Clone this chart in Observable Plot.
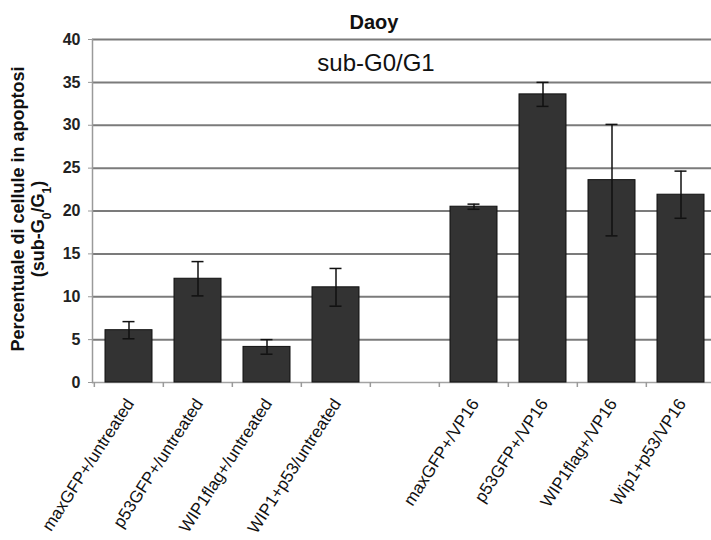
<!DOCTYPE html>
<html>
<head>
<meta charset="utf-8">
<script src="https://cdn.jsdelivr.net/npm/d3@7"></script>
<script src="https://cdn.jsdelivr.net/npm/@observablehq/plot@0.6"></script>
<style>
  html, body { margin: 0; padding: 0; background: #fff; }
  #chart { width: 711px; height: 540px; overflow: hidden; }
</style>
</head>
<body>
<div id="chart"></div>
<script>
// Sub-G0/G1 apoptotic fraction in Daoy cells, mean ± error
const untreatedLabels = ["maxGFP+/untreated", "p53GFP+/untreated", "WIP1flag+/untreated", "WIP1+p53/untreated"];
const untreatedMeans = [6.1, 12.1, 4.15, 11.1];
const untreatedErrors = [1.0, 2.0, 0.85, 2.2];

const vp16Labels = ["maxGFP+/VP16", "p53GFP+/VP16", "WIP1flag+/VP16", "Wip1+p53/VP16"];
const vp16Means = [20.5, 33.6, 23.6, 21.9];
const vp16Errors = [0.3, 1.4, 6.5, 2.75];

const yTicks = [0, 5, 10, 15, 20, 25, 30, 35, 40];
const gapKey = " "; // empty slot separating the two treatment groups

const rows = [
  ...untreatedLabels.map((label, i) => ({label, mean: untreatedMeans[i], err: untreatedErrors[i]})),
  ...vp16Labels.map((label, i) => ({label, mean: vp16Means[i], err: vp16Errors[i]}))
];
const domain = [...untreatedLabels, gapKey, ...vp16Labels];

const font = "'Liberation Sans', Arial, Helvetica, sans-serif";
const xRange = [92, 716];
const step = (xRange[1] - xRange[0]) / domain.length;

const plot = Plot.plot({
  width: 711,
  height: 540,
  marginLeft: 92,
  marginRight: 0,
  marginTop: 39,
  marginBottom: 158,
  style: {fontFamily: font, background: "#fff", color: "#111"},
  x: {type: "band", domain, range: xRange, paddingInner: 0.32, paddingOuter: 0.16},
  y: {domain: [0, 40]},
  marks: [
    // horizontal gridlines
    Plot.ruleY(yTicks.filter(v => v > 0), {stroke: "#7b7b7b", strokeWidth: 2}),
    Plot.ruleY([0], {stroke: "#a3a3a3", strokeWidth: 1.5}),
    Plot.frame({anchor: "left", stroke: "#9a9a9a", strokeWidth: 1.5}),
    Plot.axisY({ticks: yTicks, tickSize: 4, tickPadding: 8, fontSize: 16, fontWeight: "bold", stroke: "#9a9a9a", fill: "#222", label: null}),
    // category boundary ticks along the baseline
    Plot.axisX({ticks: domain, tickSize: 5, tickFormat: () => "", dx: -step / 2, stroke: "#9a9a9a", strokeWidth: 1.5, label: null}),
    // bars
    Plot.barY(rows, {x: "label", y: "mean", fill: "#333", stroke: "#111", strokeWidth: 1}),
    // error bars
    Plot.ruleX(rows, {x: "label", y1: d => d.mean - d.err, y2: d => d.mean + d.err, stroke: "#111", strokeWidth: 1.5}),
    Plot.tickY(rows, {x: "label", y: d => d.mean + d.err, inset: 17.5, stroke: "#111", strokeWidth: 1.5}),
    Plot.tickY(rows, {x: "label", y: d => d.mean - d.err, inset: 17.5, stroke: "#111", strokeWidth: 1.5}),
    // rotated category labels
    Plot.text(rows, {x: "label", y: 0, text: "label", rotate: -57, textAnchor: "end", dx: 1, dy: 18, fontSize: 17, fill: "#111"}),
    // title and panel label
    Plot.text(["Daoy"], {text: d => d, frameAnchor: "top", lineAnchor: "bottom", dx: -28, dy: -11, fontSize: 20, fontWeight: "bold", fill: "#111"}),
    Plot.text(["sub-G0/G1"], {text: d => d, frameAnchor: "top", lineAnchor: "bottom", dx: -26, dy: 31, fontSize: 24, fill: "#111"})
  ]
});

document.getElementById("chart").appendChild(plot);

// two-line y-axis title with subscripts
const svg = d3.select(plot);
const yTitle = svg.append("g")
  .attr("font-family", font)
  .attr("font-weight", "bold")
  .attr("font-size", 18)
  .attr("fill", "#111")
  .attr("text-anchor", "middle");
yTitle.append("text")
  .attr("transform", "translate(24,209) rotate(-90)")
  .text("Percentuale di cellule in apoptosi");
const line2 = yTitle.append("text").attr("transform", "translate(44,229) rotate(-90)");
line2.append("tspan").text("(sub-G");
line2.append("tspan").attr("baseline-shift", "sub").attr("font-size", 12).text("0");
line2.append("tspan").text("/G");
line2.append("tspan").attr("baseline-shift", "sub").attr("font-size", 12).text("1");
line2.append("tspan").text(")");
</script>
</body>
</html>
